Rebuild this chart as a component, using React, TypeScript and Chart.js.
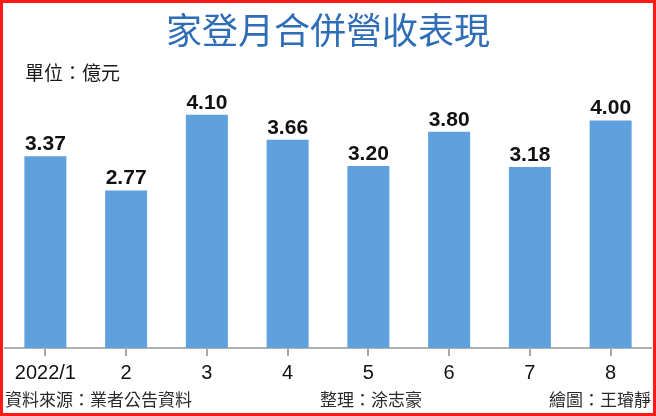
import React, { useEffect, useRef } from "react";
import { Chart, registerables } from "chart.js";

Chart.register(...registerables);

const categories = ["2022/1", "2", "3", "4", "5", "6", "7", "8"];
const revenue = [3.37, 2.77, 4.1, 3.66, 3.2, 3.8, 3.18, 4.0];
const titleText = "家登月合併營收表現";
const unitText = "單位：億元";
const sourceText = "資料來源：業者公告資料";
const editorText = "整理：涂志豪";
const artistText = "繪圖：王璿靜";

const CJK = '"Noto Sans CJK TC", "Noto Sans CJK SC", sans-serif';
const LATIN = '"Liberation Sans", Arial, "DejaVu Sans", sans-serif';

const valueLabelPlugin = {
  id: "valueLabels",
  afterDatasetsDraw(chart: any) {
    const ctx = chart.ctx;
    const meta = chart.getDatasetMeta(0);
    ctx.save();
    ctx.font = `bold 21px ${LATIN}`;
    ctx.fillStyle = "#111111";
    ctx.textAlign = "center";
    ctx.textBaseline = "alphabetic";
    meta.data.forEach((bar: any, i: number) => {
      const v = chart.data.datasets[0].data[i] as number;
      ctx.fillText(v.toFixed(2), bar.x, bar.y - 6);
    });
    ctx.restore();
  },
};

export default function App() {
  const canvasRef = useRef<HTMLCanvasElement | null>(null);

  useEffect(() => {
    const canvas = canvasRef.current;
    if (!canvas) return;
    const chart = new Chart(canvas, {
      type: "bar",
      data: {
        labels: categories,
        datasets: [
          {
            data: revenue,
            backgroundColor: "#5fa1dd",
            borderWidth: 0,
            barPercentage: 0.52,
            categoryPercentage: 1,
          },
        ],
      },
      options: {
        responsive: false,
        animation: false,
        devicePixelRatio: 1,
        layout: { padding: { left: 5, right: 5, top: 92, bottom: 26 } },
        plugins: {
          legend: { display: false },
          title: { display: false },
          tooltip: { enabled: false },
        },
        scales: {
          x: {
            offset: true,
            grid: {
              display: true,
              offset: false,
              drawOnChartArea: false,
              drawTicks: true,
              tickLength: 8,
              color: "#a8a8a8",
              lineWidth: 2,
            },
            border: { display: true, color: "#b0b0b0", width: 2 },
            ticks: {
              color: "#111111",
              padding: 5,
              font: { family: LATIN, size: 20 },
              maxRotation: 0,
              autoSkip: false,
            },
          },
          y: {
            display: false,
            min: 0,
            max: 4.5,
          },
        },
      },
      plugins: [valueLabelPlugin],
    });
    return () => chart.destroy();
  }, []);

  const textStyle = (
    left: number | undefined,
    top: number,
    size: number,
    extra: React.CSSProperties = {}
  ): React.CSSProperties => ({
    position: "absolute",
    left,
    top,
    fontFamily: CJK,
    fontSize: size,
    lineHeight: `${size}px`,
    whiteSpace: "nowrap",
    color: "#1a1a1a",
    ...extra,
  });

  return (
    <div
      style={{
        position: "absolute",
        left: 0,
        top: 0,
        width: 656,
        height: 416,
        background: "#ffffff",
        overflow: "hidden",
      }}
    >
      <canvas
        ref={canvasRef}
        width={656}
        height={416}
        style={{ position: "absolute", left: 0, top: 0, width: 656, height: 416 }}
      />
      <div
        style={textStyle(0, 10, 36, {
          width: 656,
          textAlign: "center",
          color: "#2f6db6",
          left: 0,
        })}
      >
        {titleText}
      </div>
      <div style={textStyle(25, 62, 19)}>{unitText}</div>
      <div style={textStyle(5, 390, 17, { color: "#2a2a2a" })}>{sourceText}</div>
      <div style={textStyle(320, 390, 17, { color: "#2a2a2a" })}>{editorText}</div>
      <div style={textStyle(undefined, 390, 17, { right: 5, color: "#2a2a2a" })}>
        {artistText}
      </div>
      <div
        style={{
          position: "absolute",
          left: 0,
          top: 0,
          width: 656,
          height: 416,
          boxSizing: "border-box",
          border: "3px solid #ff1a1a",
          pointerEvents: "none",
        }}
      />
    </div>
  );
}
